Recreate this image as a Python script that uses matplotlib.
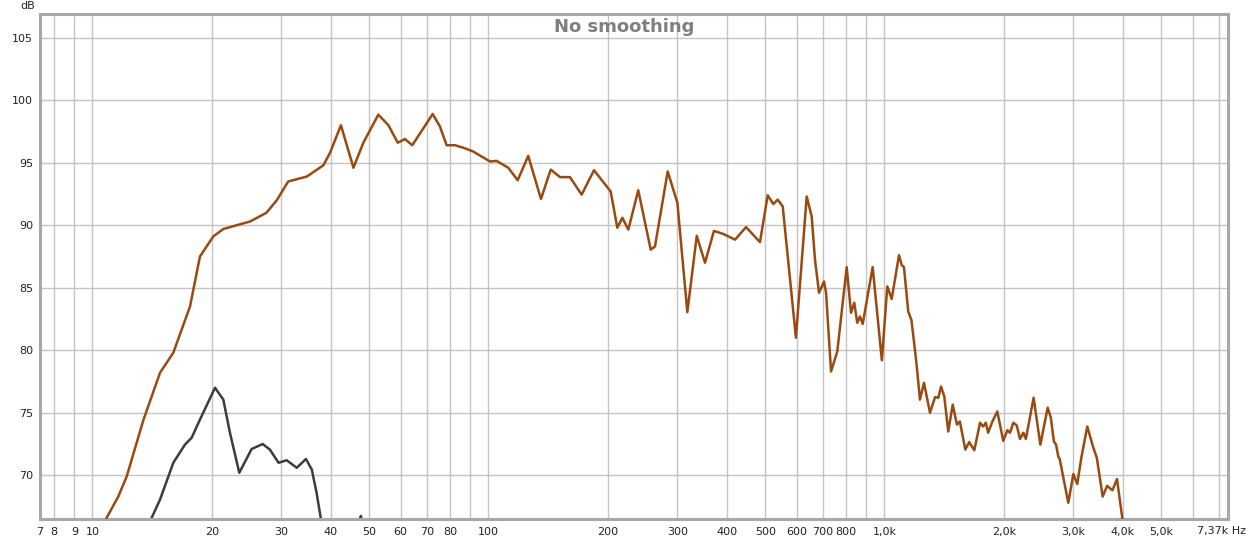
import numpy as np
import matplotlib.pyplot as plt

freq_main = [10.5, 10.86, 11.62, 12.2, 13.44, 14.81, 16.0, 17.63, 18.68, 20.18,
             21.4, 25.0, 27.5, 29.2, 31.2, 34.8, 38.3, 39.8, 42.4, 45.6,
             48.3, 52.7, 55.9, 59.0, 61.5, 64.2, 72.3, 75.4, 78.4, 82.3,
             86.4, 91.5, 100.9, 104.8, 112.2, 118.5, 126.0, 135.7, 143.6, 151.6,
             160.6, 171.9, 184.7, 200.7, 203.5, 211.5, 217.8, 225.5, 238.9, 256.8,
             263.3, 283.5, 299.9, 317.8, 335.7, 352.2, 371.0, 391.7, 419.4, 447.1,
             484.8, 507.1, 523.9, 537.5, 553.4, 597.5, 636.2, 654.9, 667.6, 683.4,
             703.6, 712.0, 732.9, 760.0, 802.7, 823.1, 838.9, 853.6, 867.1, 881.0,
             933.6, 984.8, 1016.5, 1042.8, 1088, 1106, 1120, 1148, 1170, 1204,
             1229, 1258, 1303, 1342, 1368, 1389, 1416, 1449, 1487, 1524,
             1550, 1600, 1636, 1686, 1743, 1775, 1803, 1827, 1873, 1927,
             1995, 2043, 2075, 2115, 2157, 2199, 2242, 2275, 2380, 2475,
             2583, 2631, 2678, 2712, 2747, 2770, 2912, 2999, 3068, 3145,
             3252, 3368, 3437, 3556, 3650, 3765, 3865, 3985, 4040]
db_main = [65.6, 66.6, 68.3, 69.9, 74.4, 78.2, 79.8, 83.5, 87.5, 89.1,
           89.7, 90.3, 91.0, 92.0, 93.5, 93.9, 94.8, 95.8, 98.0, 94.6,
           96.6, 98.85, 98.0, 96.6, 96.9, 96.4, 98.9, 97.9, 96.4, 96.4,
           96.2, 95.9, 95.1, 95.15, 94.6, 93.6, 95.55, 92.1, 94.45, 93.85,
           93.85, 92.45, 94.4, 92.95, 92.7, 89.8, 90.6, 89.65, 92.8, 88.05,
           88.3, 94.3, 91.8, 83.05, 89.15, 87.0, 89.55, 89.3, 88.85, 89.85,
           88.65, 92.4, 91.7, 92.05, 91.5, 81.0, 92.3, 90.7, 87.25, 84.6,
           85.5, 84.6, 78.3, 79.9, 86.65, 83.0, 83.8, 82.2, 82.7, 82.1,
           86.65, 79.2, 85.1, 84.1, 87.6, 86.8, 86.65, 83.1, 82.4, 79.0,
           76.05, 77.4, 75.0, 76.25, 76.2, 77.1, 76.3, 73.5, 75.65, 74.05,
           74.3, 72.05, 72.65, 72.0, 74.2, 73.9, 74.2, 73.4, 74.3, 75.1,
           72.75, 73.6, 73.4, 74.2, 74.0, 72.9, 73.4, 72.9, 76.2, 72.45,
           75.4, 74.6, 72.7, 72.45, 71.5, 71.3, 67.8, 70.1, 69.3, 71.5,
           73.9, 72.2, 71.4, 68.3, 69.15, 68.8, 69.7, 66.6, 65.0]

freq_other = [13.6, 14.11, 14.81, 16.0, 17.12, 17.8, 18.68, 20.39, 21.4, 22.24,
              23.48, 25.23, 26.9, 28.06, 29.5, 30.93, 32.8, 34.6, 35.8, 36.8,
              37.7, 38.5, 46.8, 47.6, 48.4, 50.0]
db_other = [65.5, 66.6, 68.05, 71.0, 72.45, 73.0, 74.45, 77.0, 76.05, 73.4,
            70.2, 72.1, 72.5, 72.05, 71.0, 71.2, 70.6, 71.3, 70.45, 68.6,
            66.6, 64.5, 66.0, 66.75, 66.0, 63.0]

yticks = [70, 75, 80, 85, 90, 95, 100, 105]
xticks = [7.37, 8, 9, 10, 20, 30, 40, 50, 60, 70, 80, 100, 200, 300, 400, 500,
          600, 700, 800, 1000, 2000, 3000, 4000, 5000]
xlabels = ['7', '8', '9', '10', '20', '30', '40', '50', '60', '70', '80', '100',
           '200', '300', '400', '500', '600', '700', '800', '1,0k', '2,0k',
           '3,0k', '4,0k', '5,0k']

fig = plt.figure(figsize=(12.48, 5.4), dpi=100)
ax = fig.add_axes([40/1248, 21/540, 1188/1248, 505/540])
ax.set_xscale('log')
ax.set_xlim(7.37, 7370)
ax.set_ylim(66.5, 106.9)

# grid: every 1..9 x decade, every 5 dB
grid_f = [m * 10**d for d in range(0, 4) for m in range(1, 10)]
grid_f = [g for g in grid_f if 7.37 < g < 7370]
for g in grid_f:
    ax.axvline(g, color='#c4c4c4', lw=1, zorder=0)
for y in yticks:
    ax.axhline(y, color='#c4c4c4', lw=1, zorder=0)

ax.plot(freq_other, db_other, color='#3c3c3c', lw=1.8, solid_joinstyle='round', zorder=2)
ax.plot(freq_main, db_main, color='#9a4a10', lw=1.8, solid_joinstyle='round', zorder=3)

ax.set_xticks(xticks)
ax.set_xticklabels(xlabels)
ax.xaxis.set_minor_locator(plt.NullLocator())
ax.set_yticks(yticks)
ax.tick_params(length=0, labelsize=8, colors='#222222', pad=6)
ax.tick_params(axis='y', pad=5)

for s in ax.spines.values():
    s.set_color('#a8a8a8')
    s.set_linewidth(2.2)

fig.text(1246/1248, 1 - 531/540, '7,37k Hz', ha='right', va='center', fontsize=8, color='#222222')
fig.text(28/1248, 1 - 6/540, 'dB', ha='center', va='center', fontsize=8, color='#222222')
fig.text(0.5, 1 - 27/540, 'No smoothing', ha='center', va='center',
         fontsize=13, fontweight='bold', color='#7f7f7f')

fig.savefig('out.png', dpi=100)
